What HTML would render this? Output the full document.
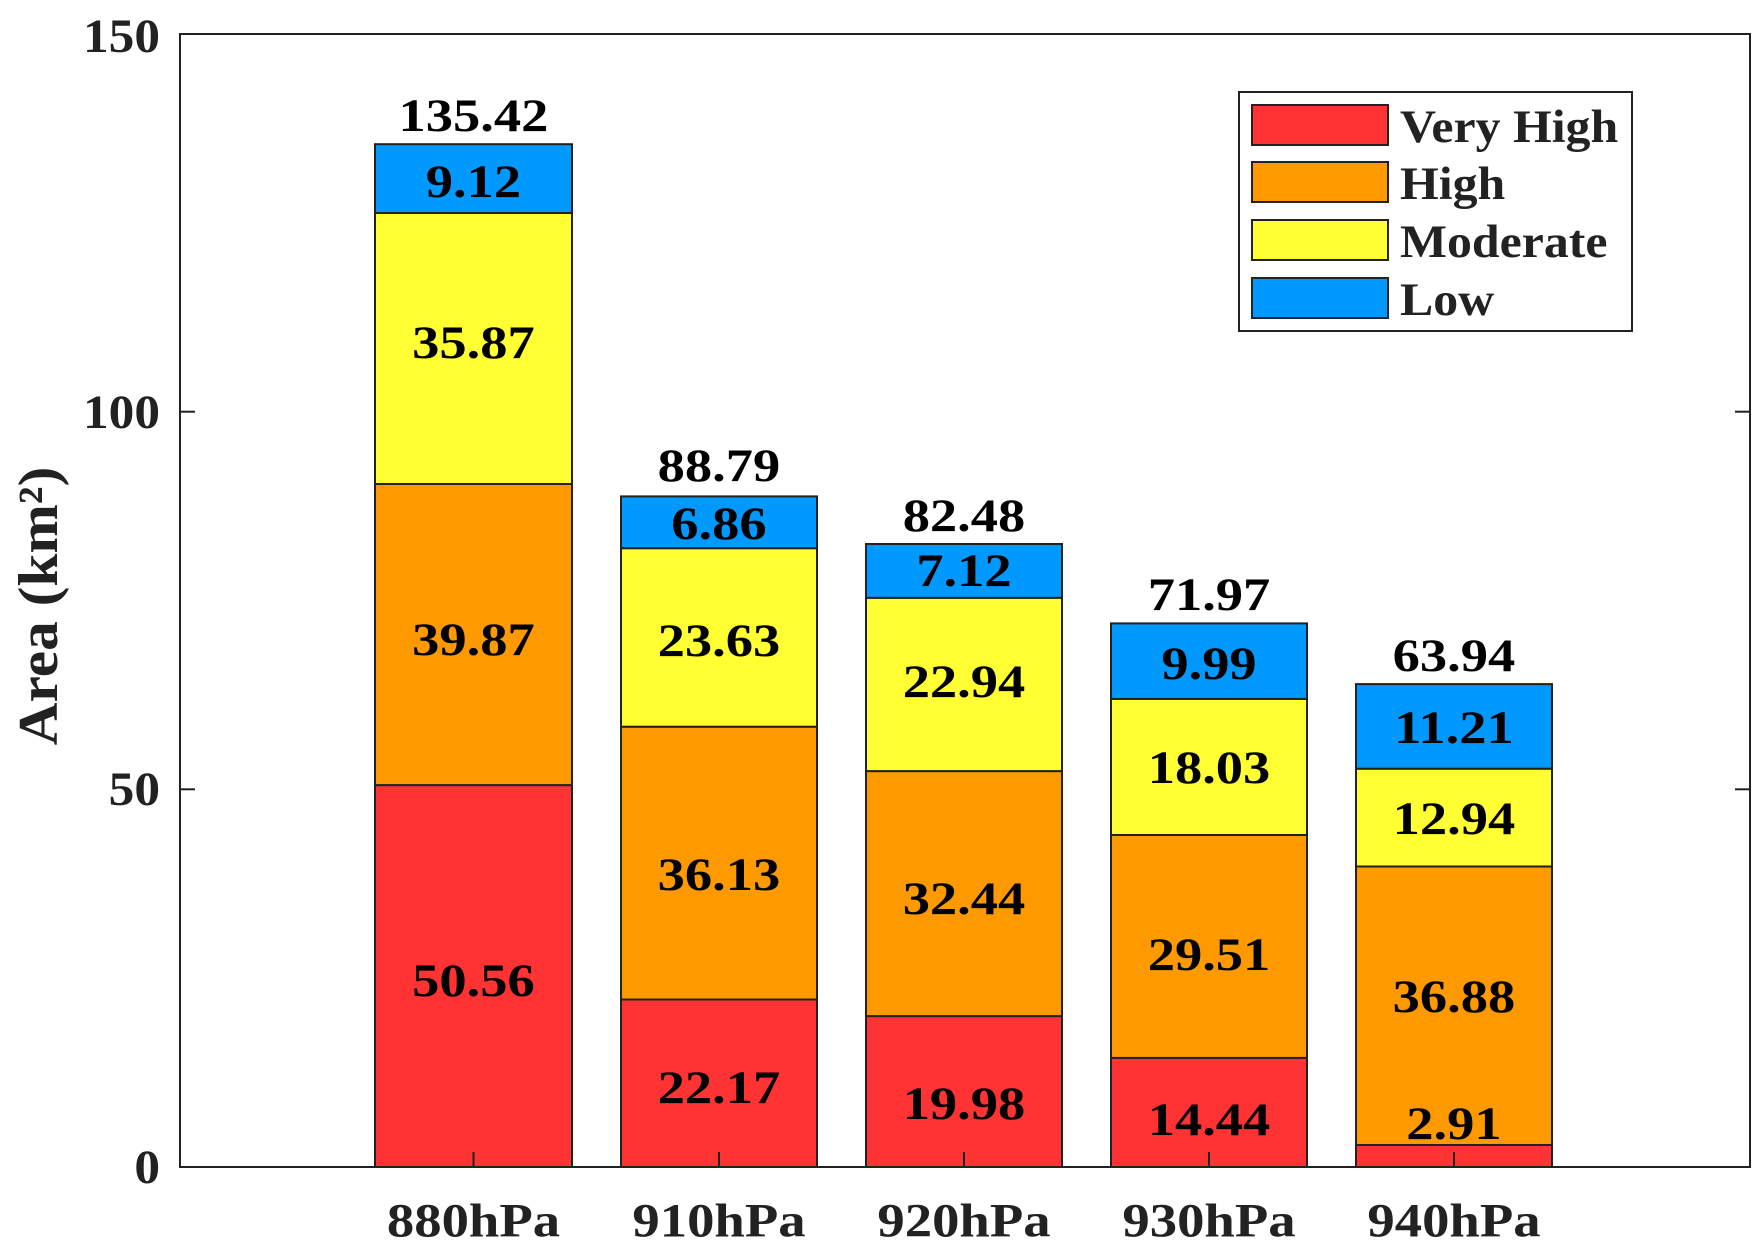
<!DOCTYPE html>
<html><head><meta charset="utf-8"><style>html,body{margin:0;padding:0;background:#fff}
.b text,.t text,.xl text,.lg text{transform-box:fill-box;}
.b text{transform-origin:center;transform:scaleX(1.16);}
.t text{transform-origin:right center;transform:scaleX(1.07);}
.xl text{transform-origin:center;transform:scaleX(1.14);}
.lg text{transform-origin:left center;transform:scaleX(1.06);}
</style></head>
<body>
<svg width="1761" height="1253" viewBox="0 0 1761 1253" xmlns="http://www.w3.org/2000/svg" font-family="Liberation Serif, serif" font-weight="bold">
<rect width="1761" height="1253" fill="#fff"/>
<g stroke="#222" stroke-width="2">
<rect x="375" y="785.1" width="197" height="381.9" fill="#ff3333"/>
<rect x="375" y="484" width="197" height="301.1" fill="#ff9900"/>
<rect x="375" y="213" width="197" height="271" fill="#ffff33"/>
<rect x="375" y="144.2" width="197" height="68.8" fill="#0099ff"/>
<rect x="621" y="999.5" width="196" height="167.5" fill="#ff3333"/>
<rect x="621" y="726.7" width="196" height="272.8" fill="#ff9900"/>
<rect x="621" y="548.2" width="196" height="178.5" fill="#ffff33"/>
<rect x="621" y="496.4" width="196" height="51.8" fill="#0099ff"/>
<rect x="866" y="1016.1" width="196" height="150.9" fill="#ff3333"/>
<rect x="866" y="771.1" width="196" height="245" fill="#ff9900"/>
<rect x="866" y="597.8" width="196" height="173.3" fill="#ffff33"/>
<rect x="866" y="544" width="196" height="53.8" fill="#0099ff"/>
<rect x="1111" y="1057.9" width="196" height="109.1" fill="#ff3333"/>
<rect x="1111" y="835" width="196" height="222.9" fill="#ff9900"/>
<rect x="1111" y="698.9" width="196" height="136.1" fill="#ffff33"/>
<rect x="1111" y="623.4" width="196" height="75.5" fill="#0099ff"/>
<rect x="1356" y="1145" width="196" height="22" fill="#ff3333"/>
<rect x="1356" y="866.5" width="196" height="278.5" fill="#ff9900"/>
<rect x="1356" y="768.7" width="196" height="97.8" fill="#ffff33"/>
<rect x="1356" y="684.1" width="196" height="84.6" fill="#0099ff"/>
</g>
<rect x="180" y="34" width="1570" height="1133" fill="none" stroke="#222" stroke-width="2"/>
<g stroke="#222" stroke-width="2">
<line x1="180" y1="789.3" x2="195" y2="789.3"/><line x1="180" y1="411.7" x2="195" y2="411.7"/>
<line x1="1750" y1="789.3" x2="1735" y2="789.3"/><line x1="1750" y1="411.7" x2="1735" y2="411.7"/>
<line x1="473.5" y1="1167" x2="473.5" y2="1152"/><line x1="719" y1="1167" x2="719" y2="1152"/>
<line x1="964" y1="1167" x2="964" y2="1152"/><line x1="1209" y1="1167" x2="1209" y2="1152"/>
<line x1="1454" y1="1167" x2="1454" y2="1152"/>
</g>
<g class="t" font-size="48" text-anchor="end" dominant-baseline="central" fill="#222">
<text x="160" y="1167">0</text><text x="160" y="789">50</text><text x="160" y="412">100</text><text x="160" y="36">150</text>
</g>
<g class="xl" font-size="48" text-anchor="middle" dominant-baseline="central" fill="#222">
<text x="473.5" y="1221">880hPa</text><text x="719" y="1221">910hPa</text><text x="964" y="1221">920hPa</text><text x="1209" y="1221">930hPa</text><text x="1454" y="1221">940hPa</text>
</g>
<g transform="translate(39,606) rotate(-90) scale(1.06,1)">
<text x="0" y="0" font-size="56" text-anchor="middle" dominant-baseline="central" fill="#222">Area (km²)</text>
</g>
<g class="b" font-size="47" text-anchor="middle" dominant-baseline="central" fill="#000">
<text x="473.5" y="116">135.42</text><text x="719" y="466">88.79</text><text x="964" y="516">82.48</text><text x="1209" y="595">71.97</text><text x="1454" y="656">63.94</text>
<text x="473.5" y="182">9.12</text><text x="473.5" y="343">35.87</text><text x="473.5" y="640">39.87</text><text x="473.5" y="981">50.56</text>
<text x="719" y="524">6.86</text><text x="719" y="641">23.63</text><text x="719" y="875">36.13</text><text x="719" y="1088">22.17</text>
<text x="964" y="571">7.12</text><text x="964" y="682">22.94</text><text x="964" y="899">32.44</text><text x="964" y="1104">19.98</text>
<text x="1209" y="664">9.99</text><text x="1209" y="768">18.03</text><text x="1209" y="955">29.51</text><text x="1209" y="1120">14.44</text>
<text x="1454" y="728">11.21</text><text x="1454" y="819">12.94</text><text x="1454" y="997">36.88</text><text x="1454" y="1124">2.91</text>
</g>
<rect x="1239" y="92" width="393" height="239" fill="#fff" stroke="#222" stroke-width="2"/>
<g stroke="#222" stroke-width="2">
<rect x="1252" y="105" width="136" height="40" fill="#ff3333"/>
<rect x="1252" y="162" width="136" height="40" fill="#ff9900"/>
<rect x="1252" y="220" width="136" height="40" fill="#ffff33"/>
<rect x="1252" y="278" width="136" height="40" fill="#0099ff"/>
</g>
<g class="lg" font-size="47" dominant-baseline="central" fill="#222">
<text x="1400" y="127">Very High</text><text x="1400" y="184">High</text><text x="1400" y="242">Moderate</text><text x="1400" y="300">Low</text>
</g>
</svg>
</body></html>
